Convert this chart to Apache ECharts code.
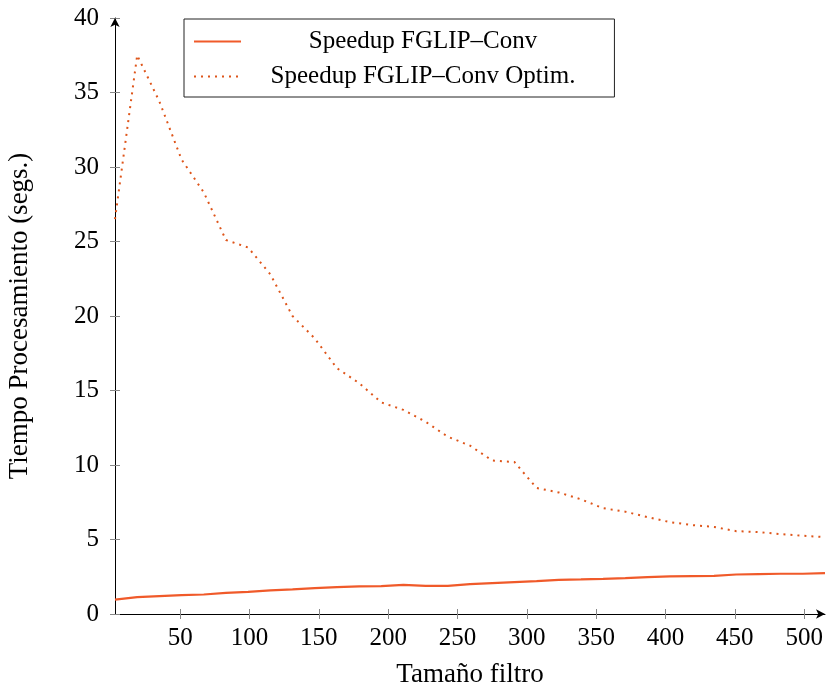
<!DOCTYPE html>
<html>
<head>
<meta charset="utf-8">
<script src="https://cdn.jsdelivr.net/npm/echarts@6/dist/echarts.min.js"></script>
<style>
  html, body { margin: 0; padding: 0; background: #fff; }
  #chart { width: 827px; height: 689px; }
</style>
</head>
<body>
<div id="chart"></div>
<script>
// tamaños de filtro (eje x)
var sizes = [3, 19, 35, 51, 67, 83, 99, 115, 131, 147, 163, 179, 195, 211, 227, 243,
  259, 275, 291, 307, 323, 339, 355, 371, 387, 403, 419, 435, 451, 467, 483, 499, 515];

var speedupConv = [0.97, 1.13, 1.2, 1.27, 1.31, 1.42, 1.49, 1.58, 1.65, 1.74, 1.8, 1.85,
  1.87, 1.96, 1.89, 1.89, 2.0, 2.07, 2.14, 2.2, 2.29, 2.32, 2.36, 2.41, 2.48, 2.52, 2.54,
  2.56, 2.65, 2.68, 2.7, 2.7, 2.74];

var speedupOptim = [26.5, 37.5, 34.4, 30.5, 28.3, 25.1, 24.6, 22.8, 20.0, 18.5, 16.5, 15.5,
  14.2, 13.7, 12.9, 11.9, 11.3, 10.3, 10.2, 8.46, 8.16, 7.7, 7.1, 6.87, 6.5, 6.17, 5.97,
  5.84, 5.56, 5.5, 5.36, 5.25, 5.16];

var xTicks = [50, 100, 150, 200, 250, 300, 350, 400, 450, 500];
var seriesNames = ['Speedup FGLIP\u2013Conv', 'Speedup FGLIP\u2013Conv Optim.'];

var FONT = 'Liberation Serif';
var lineColor = '#f05a2a';
var dotColor = '#de551a';

function pairs(vals) {
  return vals.map(function (v, i) { return [sizes[i], v]; });
}

var myChart = echarts.init(document.getElementById('chart'), null, { renderer: 'canvas' });

var option = {
  backgroundColor: '#fff',
  animation: false,
  textStyle: { fontFamily: FONT },
  grid: { left: 115, right: 2, top: 18, bottom: 75, containLabel: false, outerBoundsMode: 'none' },
  legend: {
    orient: 'vertical',
    left: 184,
    top: 19,
    padding: [10, 39, 8, 9],
    itemGap: 10,
    itemWidth: 47,
    itemHeight: 14,
    borderColor: '#222',
    borderWidth: 1,
    backgroundColor: '#fff',
    itemStyle: { opacity: 0 },
    data: seriesNames,
    formatter: function (name) { return '{c|' + name + '}'; },
    textStyle: {
      fontFamily: FONT,
      fontSize: 25,
      color: '#000',
      rich: {
        c: { fontFamily: FONT, fontSize: 25, color: '#000', width: 354, align: 'center' }
      }
    }
  },
  xAxis: [{
    type: 'value',
    position: 'bottom',
    min: 3,
    max: 515,
    name: 'Tamaño filtro',
    nameLocation: 'middle',
    nameGap: 47,
    nameTextStyle: { fontFamily: FONT, fontSize: 27, color: '#000' },
    axisLine: {
      show: true,
      onZero: false,
      symbol: ['none', 'arrow'],
      symbolSize: [7, 9],
      lineStyle: { color: '#000', width: 1 }
    },
    axisTick: { show: true, length: 5, customValues: xTicks, lineStyle: { color: '#888' } },
    axisLabel: { customValues: xTicks, margin: 12, fontFamily: FONT, fontSize: 25, color: '#000' },
    splitLine: { show: false }
  }, {
    type: 'value',
    position: 'bottom',
    min: 3,
    max: 515,
    axisLine: { show: false, onZero: false },
    axisTick: { show: true, inside: true, length: 5, customValues: xTicks, lineStyle: { color: '#888' } },
    axisLabel: { show: false },
    splitLine: { show: false }
  }],
  yAxis: [{
    type: 'value',
    position: 'left',
    min: 0,
    max: 40,
    interval: 5,
    name: 'Tiempo Procesamiento (segs.)',
    nameLocation: 'middle',
    nameGap: 82,
    nameTextStyle: { fontFamily: FONT, fontSize: 27, color: '#000' },
    axisLine: {
      show: true,
      onZero: false,
      symbol: ['none', 'arrow'],
      symbolSize: [7, 9],
      lineStyle: { color: '#000', width: 1 }
    },
    axisTick: { show: true, length: 5, lineStyle: { color: '#888' } },
    axisLabel: { margin: 16, fontFamily: FONT, fontSize: 25, color: '#000' },
    splitLine: { show: false }
  }, {
    type: 'value',
    position: 'left',
    min: 0,
    max: 40,
    interval: 5,
    axisLine: { show: false, onZero: false },
    axisTick: { show: true, inside: true, length: 5, lineStyle: { color: '#888' } },
    axisLabel: { show: false },
    splitLine: { show: false }
  }],
  series: [{
    name: seriesNames[0],
    type: 'line',
    xAxisIndex: 0,
    yAxisIndex: 0,
    symbol: 'none',
    smooth: false,
    lineStyle: { color: lineColor, width: 2.2 },
    itemStyle: { color: lineColor },
    data: pairs(speedupConv)
  }, {
    name: seriesNames[1],
    type: 'line',
    xAxisIndex: 0,
    yAxisIndex: 0,
    symbol: 'none',
    smooth: false,
    lineStyle: { color: dotColor, width: 2, type: [2, 5], cap: 'butt' },
    itemStyle: { color: dotColor },
    data: pairs(speedupOptim)
  }]
};

myChart.setOption(option);
</script>
</body>
</html>
